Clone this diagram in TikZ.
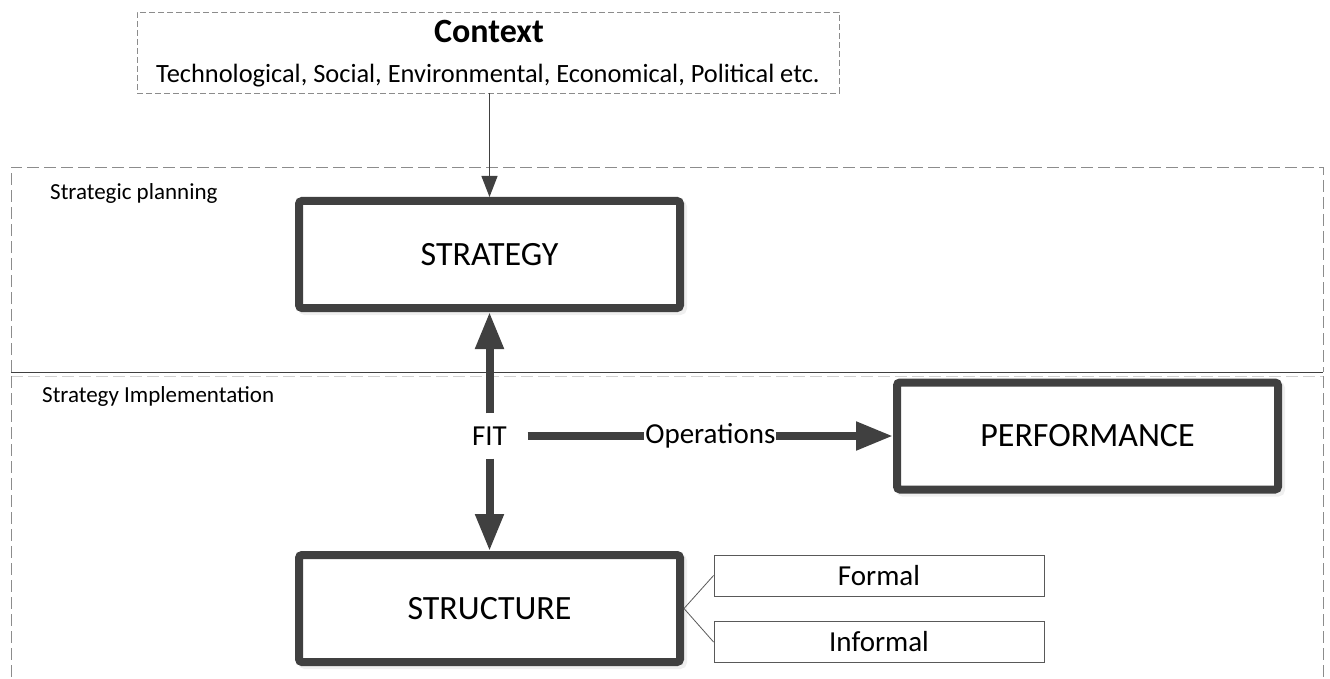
\documentclass[tikz,border=0pt]{standalone}
\usepackage{fontspec}
\setmainfont{Carlito}
\usetikzlibrary{arrows.meta,shadows}
\definecolor{boxgray}{HTML}{404040}
\definecolor{dashgray}{HTML}{8C8C8C}
\definecolor{thingray}{HTML}{595959}
\tikzset{
 bigbox/.style={draw=boxgray, line width=8pt, rounded corners=3pt, fill=white,
   minimum width=381pt, minimum height=107pt, inner sep=0pt,
   font=\fontsize{34}{40}\selectfont,
   drop shadow={shadow xshift=3pt, shadow yshift=-3pt, fill=black!12, draw=black!12, line width=8pt}},
 smallbox/.style={draw=thingray, line width=0.9pt, fill=white, minimum width=330pt,
   minimum height=41pt, inner sep=0pt, font=\fontsize{29}{34}\selectfont},
 fatarrow/.style={draw=boxgray, line width=8pt, -{Triangle[width=27pt,length=37pt]}},
 thinarrow/.style={draw=boxgray, line width=1.2pt, -{Triangle[width=16pt,length=21pt]}},
 link/.style={draw=thingray, line width=0.8pt},
 regiondash/.style={draw=dashgray, line width=0.9pt, dash pattern=on 12pt off 5pt},
 ctxdash/.style={draw=dashgray, line width=0.9pt, dash pattern=on 6pt off 3pt},
 lbl/.style={font=\fontsize{23}{28}\selectfont, anchor=base west, inner sep=0pt},
 midtext/.style={font=\fontsize{29}{34}\selectfont, inner sep=0pt},
}
\begin{document}
\begin{tikzpicture}[x=1pt,y=-1pt]
\useasboundingbox (0,0) rectangle (1330,679);
% regions
\draw[regiondash] (11,372) -- (11,167) -- (1323,167) -- (1323,372);
\draw[dashgray!40, line width=0.6pt, dash pattern=on 12pt off 5pt] (11,376) -- (1323,376);
\draw[regiondash] (11,376) -- (11,700);
\draw[regiondash] (1323,376) -- (1323,700);
\draw[draw=boxgray, line width=1pt] (11,372) -- (1323,372);
\node[lbl] (plan) at (50,200) {Strategic planning};
\node[lbl] (impl) at (42,402) {Strategy Implementation};
% context
\node[ctxdash, minimum width=702pt, minimum height=81pt, inner sep=0pt] (ctx) at (488,52.5) {};
\node[font=\bfseries\fontsize{34}{40}\selectfont, anchor=base, inner sep=0pt] (ctxtitle) at (489,43) {Context};
\node[font=\fontsize{26.4}{30}\selectfont, anchor=base, inner sep=0pt] (ctxsub) at (488,83) {Technological, Social, Environmental, Economical, Political etc.};
% main boxes
\node[bigbox] (strategy) at (489.5,254.5) {STRATEGY};
\node[bigbox] (performance) at (1087.5,436) {PERFORMANCE};
\node[bigbox] (structure) at (489.5,608.5) {STRUCTURE};
\node[smallbox] (formal) at (879,575.5) {Formal};
\node[smallbox] (informal) at (879,642) {Informal};
\node[midtext, minimum width=76pt, minimum height=45pt] (fit) at (489.5,436) {FIT};
% connectors
\draw[thinarrow] (ctx.south -| strategy.north) -- (strategy.north);
\draw[fatarrow] (fit.north) -- (strategy.south);
\draw[fatarrow] (fit.south) -- (structure.north);
\draw[fatarrow] (fit.east) -- node[midtext, fill=white, inner sep=1pt] (ops) {Operations} (performance.west);
\draw[link] (structure.east) -- (formal.west);
\draw[link] (structure.east) -- (informal.west);
\end{tikzpicture}
\end{document}
